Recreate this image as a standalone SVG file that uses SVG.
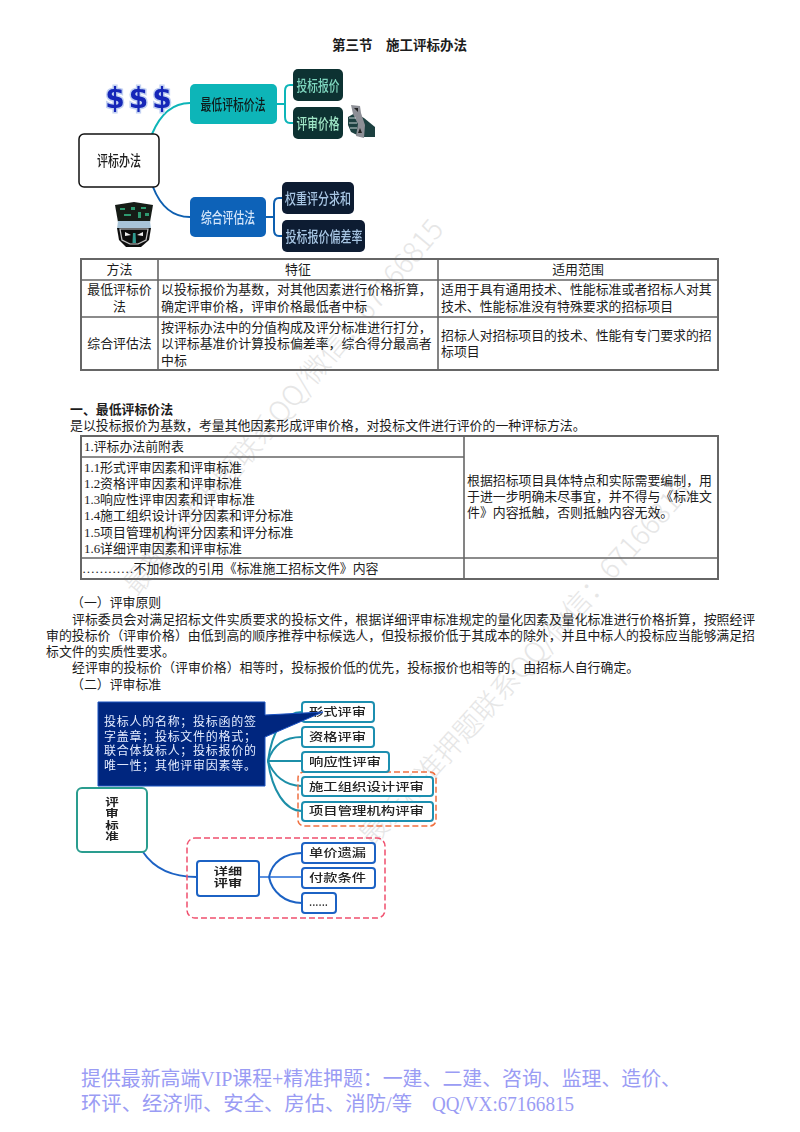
<svg xmlns="http://www.w3.org/2000/svg" width="800" height="1132" viewBox="0 0 800 1132">
<defs>
<filter id="soft" x="-5%" y="-5%" width="110%" height="110%"><feGaussianBlur stdDeviation="0.35"/></filter>
</defs>
<style>
text{font-family:"Liberation Serif","Noto Sans CJK SC",sans-serif;fill:#1c1c1c}
.b{font-size:12.9px}
.c{text-anchor:middle}
.h{font-weight:700}
.wm{font-family:"Noto Sans CJK SC",sans-serif;font-size:28px;font-weight:300;fill:#e6e6e6}
.ft{font-size:20px;fill:#9a9cf4}
.line{fill:none;stroke:#666;stroke-width:2}
.cell{fill:none;stroke:#666;stroke-width:1.6}
.m{font-family:"Noto Sans CJK SC",sans-serif;font-size:15px;font-weight:500;text-anchor:middle}
.s{font-family:"Noto Sans CJK SC",sans-serif;font-size:11px;font-weight:500;fill:#222}
.v{font-family:"Liberation Sans","Noto Sans CJK SC",sans-serif;font-size:10px;font-weight:700;fill:#222;text-anchor:middle}
.n{font-family:"Liberation Sans","Noto Sans CJK SC",sans-serif;font-size:12px;fill:#e4ebff}
.t1{fill:none;stroke:#10b5b8;stroke-width:2}
.t2{fill:none;stroke:#0f5fb0;stroke-width:2}
.t3{fill:none;stroke:#1f8fa8;stroke-width:2}
.t4{fill:none;stroke:#1c62c4;stroke-width:2}
.bt{fill:#fff;stroke:#1f8fb0;stroke-width:2}
.bb{fill:#fff;stroke:#1c62c4;stroke-width:2}
.dollar{font-family:"DejaVu Sans",sans-serif;font-size:28px;font-weight:700;fill:#1228b8;stroke:#c4d2f2;stroke-width:3;paint-order:stroke;text-anchor:middle}
</style>
<rect width="800" height="1132" fill="#fff"/>

<g id="watermarks">
<text class="wm" transform="translate(137 597) rotate(-50)">最新精准押题联系QQ/微信：67166815</text>
<text class="wm" transform="translate(372 848) rotate(-48)">最新精准押题联系QQ/微信：67166815</text>
</g>

<text id="title" class="h c" x="399.500" y="50" font-size="13.5">第三节　施工评标办法</text>

<g id="map1-connectors" filter="url(#soft)">
<path class="t1" d="M152 134C160 115 172 103 190 103"/>
<path class="t1" d="M277 104H284M293 85H290Q285 85 285 91V117Q285 123 290 123H293"/>
<path class="t2" d="M153 187C160 205 172 217 190 217"/>
<path class="t2" d="M266 217H274M282 198H279Q274 198 274 204V230Q274 236 279 236H282"/>
</g>
<g filter="url(#soft)">
<g id="node-central"><rect x="79" y="134" width="80" height="53" rx="5" fill="#fff" stroke="#111" stroke-width="1.5"/><text class="m" x="119" y="166" textLength="44" lengthAdjust="spacingAndGlyphs">评标办法</text></g>
<g id="node-lowest"><rect x="190" y="84" width="87" height="40" rx="5" fill="#10b5b8"/><text class="m" x="233" y="109.500" textLength="65" lengthAdjust="spacingAndGlyphs" style="fill:#0b1a1a">最低评标价法</text></g>
<g id="node-bid"><rect x="293" y="69" width="50" height="32" rx="5" fill="#0f3030"/><text class="m" x="318" y="91" textLength="43" lengthAdjust="spacingAndGlyphs" style="fill:#7fd8c0">投标报价</text></g>
<g id="node-review"><rect x="293" y="107" width="50" height="32" rx="5" fill="#0f3030"/><text class="m" x="318" y="129" textLength="43" lengthAdjust="spacingAndGlyphs" style="fill:#a0e8c8">评审价格</text></g>
<g id="node-composite"><rect x="190" y="197" width="76" height="40" rx="5" fill="#0f62b8"/><text class="m" x="228" y="222.500" textLength="54" lengthAdjust="spacingAndGlyphs" style="fill:#d4e6fa">综合评估法</text></g>
<g id="node-weight"><rect x="282" y="182" width="72" height="32" rx="5" fill="#0b1a30"/><text class="m" x="318" y="204" textLength="66" lengthAdjust="spacingAndGlyphs" style="fill:#a8c6e4">权重评分求和</text></g>
<g id="node-deviation"><rect x="282" y="220" width="83" height="32" rx="5" fill="#0b1a30"/><text class="m" x="324" y="242" textLength="77" lengthAdjust="spacingAndGlyphs" style="fill:#a8c6e4">投标报价偏差率</text></g>
</g>

<g id="icon-dollars" filter="url(#soft)">
<text class="dollar" x="115" y="108">$</text>
<text class="dollar" x="138.500" y="108">$</text>
<text class="dollar" x="162" y="108">$</text>
</g>
<g id="icon-fist" filter="url(#soft)">
<path d="M348 117L355 113L364 118L375 127V137L361 137L351 132L348 125Z" fill="#1d4040"/>
<path d="M351 105L360 106L361 113L365 125L364 138L356 136L358 124L353 114Z" fill="#8d8f96"/>
<path d="M354 108L358 108L358 112ZM360 128L362 133L358 133Z" fill="#222"/>
<path d="M349 118H356M349 123H357M350 128H357" stroke="#c8d4d4" stroke-width="1"/>
</g>
<g id="icon-mask" filter="url(#soft)">
<path d="M115 205L134 202L153 205L150 222H118Z" fill="#141a18"/>
<path d="M120 208h5v2h-5zM131 207h4v3h-4zM141 207h5v2h-5zM124 214h7v2h-7zM138 212h3v6h-3zM145 213h4v3h-4z" fill="#2f9a70"/>
<path d="M118 221H150L151 229H117Z" fill="#a8c4d8"/>
<path d="M117 228H151L149 240L141 247H126L119 240Z" fill="#111"/>
<path d="M120 229H148L146 240L138 244H130L122 240Z" fill="none" stroke="#c8c8c8" stroke-width="1.2"/>
<path d="M125 232L131 235L125 236ZM143 232L137 235L143 236Z" fill="#eee"/>
<path d="M133 233H135.500L136 243H132.500Z" fill="#2f9a90"/>
</g>

<g id="table-methods">
<rect class="line" x="81" y="259" width="637" height="111" fill="none"/>
<path class="cell" d="M81 280H718M81 317H718M158 259V370M438 259V370"/>
<text class="b c" x="119.500" y="274">方法</text>
<text class="b c" x="298" y="274">特征</text>
<text class="b c" x="578" y="274">适用范围</text>
<text class="b c" x="119.500" y="294">最低评标价</text>
<text class="b c" x="119.500" y="311">法</text>
<text class="b" x="161" y="294">以投标报价为基数，对其他因素进行价格折算，</text>
<text class="b" x="161" y="311">确定评审价格，评审价格最低者中标</text>
<text class="b" x="441" y="294">适用于具有通用技术、性能标准或者招标人对其</text>
<text class="b" x="441" y="311">技术、性能标准没有特殊要求的招标项目</text>
<text class="b c" x="119.500" y="348">综合评估法</text>
<text class="b" x="161" y="332">按评标办法中的分值构成及评分标准进行打分，</text>
<text class="b" x="161" y="348">以评标基准价计算投标偏差率，综合得分最高者</text>
<text class="b" x="161" y="365">中标</text>
<text class="b" x="441" y="340">招标人对招标项目的技术、性能有专门要求的招</text>
<text class="b" x="441" y="356">标项目</text>
</g>

<g id="section-one">
<text class="b h" x="70" y="414">一、最低评标价法</text>
<text class="b" x="70" y="430">是以投标报价为基数，考量其他因素形成评审价格，对投标文件进行评价的一种评标方法。</text>
</g>

<g id="table-files">
<rect class="line" x="81" y="436" width="637" height="143" fill="none"/>
<path class="cell" d="M81 457H464M81 558H718M464 436V579"/>
<text class="b" x="84" y="451">1.评标办法前附表</text>
<text class="b" x="84" y="472">1.1形式评审因素和评审标准</text>
<text class="b" x="84" y="488">1.2资格评审因素和评审标准</text>
<text class="b" x="84" y="504">1.3响应性评审因素和评审标准</text>
<text class="b" x="84" y="520">1.4施工组织设计评分因素和评分标准</text>
<text class="b" x="84" y="537">1.5项目管理机构评分因素和评分标准</text>
<text class="b" x="84" y="553">1.6详细评审因素和评审标准</text>
<text class="b" x="82" y="573">…………不加修改的引用《标准施工招标文件》内容</text>
<text class="b" x="467" y="485">根据招标项目具体特点和实际需要编制，用</text>
<text class="b" x="467" y="501">于进一步明确未尽事宜，并不得与《标准文</text>
<text class="b" x="467" y="517">件》内容抵触，否则抵触内容无效。</text>
</g>

<g id="principles">
<text class="b" x="71" y="607">（一）评审原则</text>
<text class="b" x="72" y="624">评标委员会对满足招标文件实质要求的投标文件，根据详细评审标准规定的量化因素及量化标准进行价格折算，按照经评</text>
<text class="b" x="46" y="640">审的投标价（评审价格）由低到高的顺序推荐中标候选人，但投标报价低于其成本的除外，并且中标人的投标应当能够满足招</text>
<text class="b" x="46" y="656">标文件的实质性要求。</text>
<text class="b" x="72" y="672">经评审的投标价（评审价格）相等时，投标报价低的优先，投标报价也相等的，由招标人自行确定。</text>
<text class="b" x="71" y="689">（二）评审标准</text>
</g>

<g id="map2-connectors" filter="url(#soft)">
<path class="t3" d="M267 761H302"/>
<path class="t3" d="M268 761C272 730 285 712 302 712"/>
<path class="t3" d="M268 761C273 745 285 737 302 737"/>
<path class="t3" d="M268 761C273 775 285 786 302 786"/>
<path class="t3" d="M268 761C272 790 285 811 302 811"/>
<path class="t4" d="M143 852C155 870 175 877 197 877"/>
<path d="M259 877H302" fill="none" stroke="#5a90e0" stroke-width="2"/>
<path class="t4" d="M269 877C272 862 285 853 302 853"/>
<path class="t4" d="M269 877C272 892 285 903 302 903"/>
</g>
<g filter="url(#soft)">
<g id="group-orange"><rect x="298" y="772" width="138" height="54" rx="6" fill="none" stroke="#f07040" stroke-width="1.500" stroke-dasharray="6 3"/></g>
<g id="group-red"><rect x="187" y="838" width="198" height="80" rx="8" fill="none" stroke="#f0506e" stroke-width="1.500" stroke-dasharray="6 3"/></g>
<g id="node-form"><rect class="bt" x="302" y="702" width="72" height="20" rx="3"/><text class="s" x="309" y="716" textLength="57" lengthAdjust="spacingAndGlyphs">形式评审</text></g>
<g id="node-qual"><rect class="bt" x="302" y="727" width="72" height="20" rx="3"/><text class="s" x="309" y="741" textLength="57" lengthAdjust="spacingAndGlyphs">资格评审</text></g>
<g id="node-resp"><rect class="bt" x="302" y="752" width="87" height="20" rx="3"/><text class="s" x="309" y="766" textLength="72" lengthAdjust="spacingAndGlyphs">响应性评审</text></g>
<g id="node-design"><rect class="bt" x="302" y="777" width="131" height="19" rx="3"/><text class="s" x="309" y="791" textLength="115" lengthAdjust="spacingAndGlyphs">施工组织设计评审</text></g>
<g id="node-pm"><rect class="bt" x="302" y="802" width="131" height="19" rx="3"/><text class="s" x="309" y="815" textLength="115" lengthAdjust="spacingAndGlyphs">项目管理机构评审</text></g>
<g id="node-note">
<path d="M98 702H265V715L323 712L265 737V786H98Z" fill="#00287f" stroke="#1a50c0" stroke-width="1"/>
<text class="n" x="104" y="726" textLength="152" lengthAdjust="spacing">投标人的名称；投标函的签</text>
<text class="n" x="104" y="741" textLength="152" lengthAdjust="spacing">字盖章；投标文件的格式；</text>
<text class="n" x="104" y="755" textLength="152" lengthAdjust="spacing">联合体投标人；投标报价的</text>
<text class="n" x="104" y="770" textLength="152" lengthAdjust="spacing">唯一性；其他评审因素等。</text>
</g>
<g id="node-criteria"><rect x="77" y="788" width="70" height="64" rx="5" fill="#fff" stroke="#2a9d8f" stroke-width="2"/>
<text class="v" transform="translate(112 0) scale(1.35 1)"><tspan x="0" y="806">评</tspan><tspan x="0" y="817.500">审</tspan><tspan x="0" y="829">标</tspan><tspan x="0" y="840.500">准</tspan></text></g>
<g id="node-detail"><rect class="bb" x="197" y="861" width="62" height="35" rx="3"/>
<text class="v" transform="translate(228 0) scale(1.42 1)"><tspan x="0" y="875.500">详细</tspan><tspan x="0" y="887">评审</tspan></text></g>
<g id="node-unit"><rect class="bb" x="302" y="843" width="73" height="20" rx="3"/><text class="s" x="309" y="857" textLength="57" lengthAdjust="spacingAndGlyphs">单价遗漏</text></g>
<g id="node-pay"><rect class="bb" x="302" y="868" width="73" height="20" rx="3"/><text class="s" x="309" y="882" textLength="57" lengthAdjust="spacingAndGlyphs">付款条件</text></g>
<g id="node-more"><rect class="bb" x="302" y="893" width="34" height="20" rx="3"/><text class="s" x="309" y="906" textLength="19" lengthAdjust="spacingAndGlyphs">......</text></g>
</g>

<g id="footer">
<text class="ft" x="81" y="1086" textLength="600" lengthAdjust="spacingAndGlyphs">提供最新高端VIP课程+精准押题：一建、二建、咨询、监理、造价、</text>
<text class="ft" x="81" y="1111" textLength="331" lengthAdjust="spacingAndGlyphs">环评、经济师、安全、房估、消防/等</text>
<text class="ft" x="432" y="1111" textLength="142" lengthAdjust="spacingAndGlyphs">QQ/VX:67166815</text>
</g>
</svg>
